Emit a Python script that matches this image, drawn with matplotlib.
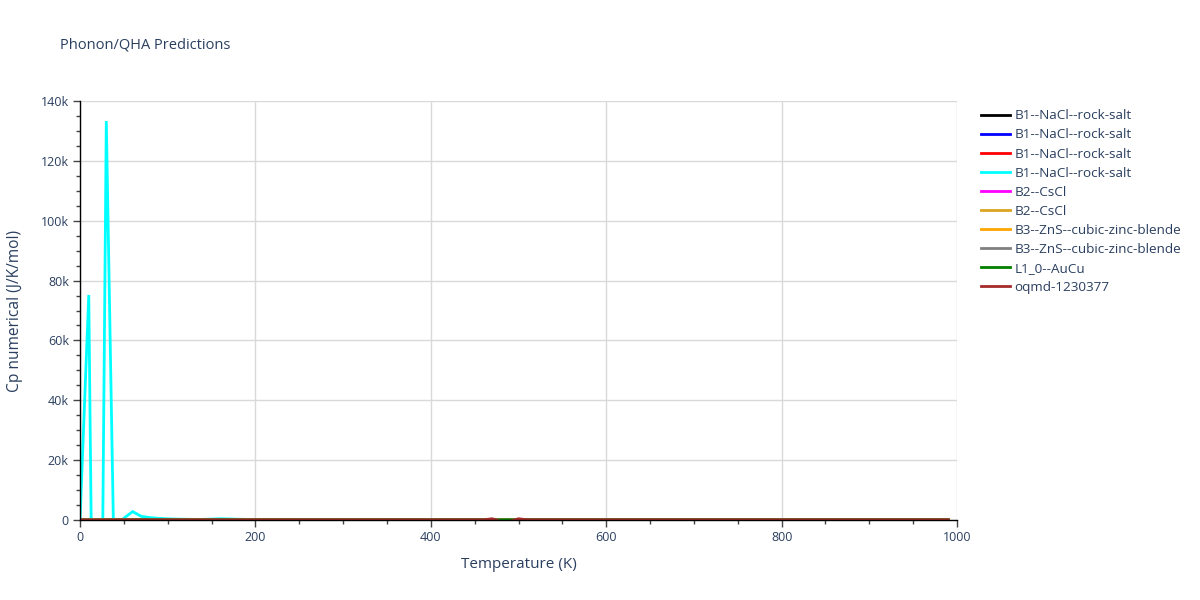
import matplotlib
matplotlib.use("Agg")
import matplotlib.pyplot as plt
from matplotlib.ticker import FuncFormatter, MultipleLocator
import numpy as np

plt.rcParams['font.family'] = ['Open Sans', 'DejaVu Sans']

# temperature grid of the cyan run (0..990 K, step 10)
temps = np.arange(0, 1000, 10)

cp_b1_cyan = [
    0, 75200, -200000, 133300, -33000, 600, 2800, 1200, 800, 550,
    400, 300, 250, 200, 200, 300, 420, 350, 250, 200,
    180, 170, 160, 150, 150, 140, 150, 160, 150, 140,
    130, 130, 120, 120, 110, 110, 100, 100, 100, 95,
    90, 90, 90, 85, 85, 80, 80, 80, 78, 75,
    75, 72, 72, 70, 70, 70, 68, 68, 66, 66,
    65, 65, 64, 64, 63, 63, 62, 62, 62, 61,
    61, 60, 60, 60, 60, 59, 59, 59, 58, 58,
    58, 58, 57, 57, 57, 57, 56, 56, 56, 56,
    56, 55, 55, 55, 55, 55, 55, 55, 54, 54,
]

# coarser grid for the other (flat-looking) runs
temps_lo = [0, 20, 50, 100, 200, 300, 400, 460, 470, 480, 490, 500, 510, 600, 700, 800, 900, 990]

cp_b1_black = [0, 6, 28, 42, 48, 49.5, 50, 50.5, 50.6, 50.7, 50.8, 50.9, 51, 51.5, 52, 52.5, 53, 53.4]
cp_b1_blue = [0, 7, 30, 43, 48.5, 49.8, 50.3, 50.7, 50.8, 50.9, 51, 51.1, 51.2, 51.7, 52.2, 52.7, 53.2, 53.6]
cp_b1_red = [0, 5, 26, 41, 47.5, 49.2, 49.8, 50.2, 50.3, 50.4, 50.5, 50.6, 50.7, 51.1, 51.6, 52, 52.5, 52.9]
cp_b2_magenta = [0, 9, 33, 44, 48.8, 49.9, 50.4, 50.8, 50.9, 51, 51.1, 51.2, 51.3, 51.8, 52.3, 52.8, 53.3, 53.7]
cp_b2_gold = [0, 8, 31, 43.5, 48.6, 49.7, 50.2, 50.6, 50.7, 50.8, 50.9, 51, 51.1, 51.6, 52.1, 52.6, 53.1, 53.5]
cp_b3_orange = [0, 4, 22, 38, 46.5, 48.7, 49.5, 49.9, 50, 50.1, 50.2, 50.3, 50.4, 50.9, 51.4, 51.9, 52.4, 52.8]
cp_b3_gray = [0, 4.5, 23, 39, 46.8, 48.9, 49.6, 50, 50.1, 50.2, 50.3, 50.4, 50.5, 51, 51.5, 52, 52.5, 52.9]
cp_l10_green = [0, 6.5, 29, 42.5, 48.2, 49.6, 50.1, 50.5, 50.6, 50.7, 50.8, 50.9, 51, 51.4, 51.9, 52.4, 52.9, 53.3]
cp_oqmd_brown = [0, 6, 28, 42, 48, 49.5, 50, 60, 420, -500, -500, 420, 60, 51.5, 52, 52.5, 53, 53.4]

series = [
    ("B1--NaCl--rock-salt", temps_lo, cp_b1_black, "black"),
    ("B1--NaCl--rock-salt", temps_lo, cp_b1_blue, "blue"),
    ("B1--NaCl--rock-salt", temps_lo, cp_b1_red, "red"),
    ("B1--NaCl--rock-salt", temps, cp_b1_cyan, "cyan"),
    ("B2--CsCl", temps_lo, cp_b2_magenta, "magenta"),
    ("B2--CsCl", temps_lo, cp_b2_gold, "goldenrod"),
    ("B3--ZnS--cubic-zinc-blende", temps_lo, cp_b3_orange, "orange"),
    ("B3--ZnS--cubic-zinc-blende", temps_lo, cp_b3_gray, "gray"),
    ("L1_0--AuCu", temps_lo, cp_l10_green, "green"),
    ("oqmd-1230377", temps_lo, cp_oqmd_brown, "brown"),
]

text_col = '#2a3f5f'

fig = plt.figure(figsize=(12, 6), dpi=100)
ax = fig.add_axes([80/1200, 1 - 520/600, 877/1200, 419/600])

for name, x, y, c in series:
    ax.plot(x, y, color=c, lw=2, label=name, solid_joinstyle='miter')

ax.set_xlim(0, 1000)
ax.set_ylim(0, 140000)
ax.xaxis.set_major_locator(MultipleLocator(200))
ax.xaxis.set_minor_locator(MultipleLocator(50))
ax.yaxis.set_major_locator(MultipleLocator(20000))
ax.yaxis.set_minor_locator(MultipleLocator(5000))
ax.yaxis.set_major_formatter(FuncFormatter(lambda v, p: '0' if v == 0 else f'{int(v/1000)}k'))

ax.grid(True, which='major', color='#d9d9d9', lw=1)
ax.set_axisbelow(True)
for s in ['top', 'right']:
    ax.spines[s].set_visible(False)
for s in ['left', 'bottom']:
    ax.spines[s].set_color('black')
    ax.spines[s].set_linewidth(1)
ax.tick_params(which='major', length=5, width=1, color='#444444', labelsize=9, labelcolor=text_col, pad=3)
ax.tick_params(which='minor', length=3, width=1, color='#444444')

ax.set_xlabel('Temperature (K)', fontsize=11, color=text_col, labelpad=9)
ax.set_ylabel('Cp numerical (J/K/mol)', fontsize=11.2, color=text_col, labelpad=13)

fig.text(60/1200, 1 - 45/600, 'Phonon/QHA Predictions', fontsize=10.5, color=text_col, va='center', ha='left')

fig.legend(loc='upper left', bbox_to_anchor=(976/1200, 1 - 104/600), frameon=False,
           fontsize=9.7, handlelength=2.1, handletextpad=0.36, labelspacing=0.45,
           labelcolor=text_col, borderaxespad=0)

fig.savefig('out.png', dpi=100)
